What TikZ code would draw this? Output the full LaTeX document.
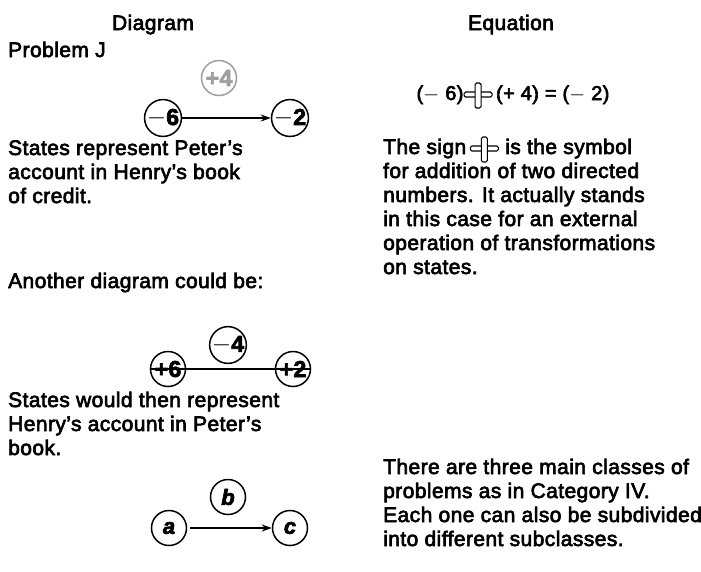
\documentclass[tikz,border=0pt]{standalone}
\usepackage{fontspec}
\setmainfont{Liberation Sans}[FakeBold=3,LetterSpace=2]
\usetikzlibrary{arrows.meta}
\newcommand\addsign{\tikz[baseline=0pt,x=1pt,y=1pt,line width=1.2pt]{%
 \draw[rounded corners=1.5pt] (-14,3) rectangle (14,8);
 \filldraw[fill=white,rounded corners=1.5pt] (-3,-8) rectangle (3,17);}}
\tikzset{
 txt/.style={anchor=base west,inner sep=0pt,font=\fontsize{21}{24}\selectfont},
 ttl/.style={anchor=base,inner sep=0pt,font=\fontsize{21}{24}\selectfont},
 state/.style={circle,draw,line width=1.5pt,minimum size=35pt,inner sep=0pt,
   font=\bfseries\fontsize{23}{23}\selectfont},
 letr/.style={state,font=\bfseries\itshape\fontsize{22}{22}\selectfont},
 conn/.style={line width=1.8pt},
 arr/.style={conn,-{Stealth[length=10pt,width=7pt]}},
}
\begin{document}
\begin{tikzpicture}[x=1pt,y=-1pt]
\fill[white] (0,0) rectangle (701,571);
\useasboundingbox (0,0) rectangle (701,571);
% headings
\node[ttl] (hd) at (153,30) {Diagram};
\node[ttl] (he) at (511,30) {Equation};
\node[txt] (pj) at (8,57) {Problem J};
% first diagram
\node[state,draw=gray!75,text=gray!75] (p4) at (219,78) {+4};
\node[state] (m6) at (163,118) {$-$6};
\node[state] (m2) at (290,118) {$-$2};
\draw[arr] (m6) -- (m2);
% equation
\node[anchor=base,inner sep=0pt,font=\fontsize{20}{24}\selectfont] (eq) at (513,100)
  {($-$ 6)\addsign\,(+ 4) = ($-$ 2)};
% left text 1
\node[txt] (l1) at (8,155) {States represent Peter’s};
\node[txt] (l2) at (8,179) {account in Henry’s book};
\node[txt] (l3) at (8,203) {of credit.};
% right text 1
\node[txt] (r1) at (383,154) {The sign\,\addsign\ is the symbol};
\node[txt] (r2) at (383,178) {for addition of two directed};
\node[txt] (r3) at (383,202) {numbers. It actually stands};
\node[txt] (r4) at (383,226) {in this case for an external};
\node[txt] (r5) at (383,250) {operation of transformations};
\node[txt] (r6) at (383,274) {on states.};
% second diagram
\node[txt] (an) at (8,288) {Another diagram could be:};
\node[state] (m4) at (228,345) {$-$4};
\node[state] (p6) at (168,369) {+6};
\node[state] (p2) at (293,369) {+2};
\draw[conn] (p6.west) -- (p2.east);
\node[txt] (s1) at (8,407) {States would then represent};
\node[txt] (s2) at (8,431) {Henry’s account in Peter’s};
\node[txt] (s3) at (8,455) {book.};
% third diagram
\node[letr] (b) at (228,497) {b};
\node[letr] (a) at (169,528) {a};
\node[letr] (c) at (290,528) {c};
\draw[arr] ([xshift=3pt]a.east) -- (c);
% right text 2
\node[txt] (t1) at (383,474) {There are three main classes of};
\node[txt] (t2) at (383,498) {problems as in Category IV.};
\node[txt] (t3) at (383,522) {Each one can also be subdivided};
\node[txt] (t4) at (383,546) {into different subclasses.};
\end{tikzpicture}
\end{document}
